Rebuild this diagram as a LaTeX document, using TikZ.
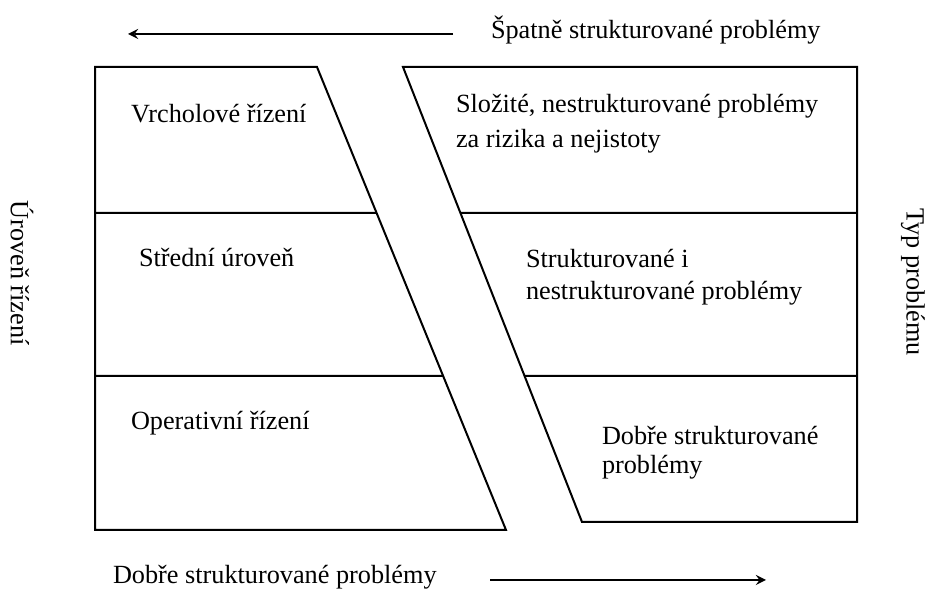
\documentclass[tikz,border=0pt]{standalone}
\usepackage{fontspec}
\setmainfont{Liberation Serif}
\usetikzlibrary{calc}

\begin{document}
\begin{tikzpicture}[x=0.4pt,y=-0.4pt,>=stealth,thick,
    box text/.style={anchor=base west,inner sep=0pt,font=\fontsize{10.5}{12}\selectfont},
    side text/.style={rotate=-90,inner sep=0pt,font=\fontsize{10.5}{12}\selectfont}]
    \useasboundingbox (0,0) rectangle (934,590);

    % levels of management (left block)
    \coordinate (lt) at (95,67);
    \coordinate (ltr) at (317,67);
    \coordinate (lbr) at (506,530);
    \coordinate (lb) at (95,530);
    \draw (lt) -- (ltr) -- (lbr) -- (lb) -- cycle;
    \coordinate (l1) at (95,213);
    \coordinate (l1e) at ($(ltr)!{146/463}!(lbr)$);
    \coordinate (l2) at (95,376);
    \coordinate (l2e) at ($(ltr)!{309/463}!(lbr)$);
    \draw (l1) -- (l1e);
    \draw (l2) -- (l2e);

    % types of problems (right block)
    \coordinate (rtl) at (403,67);
    \coordinate (rt) at (857,67);
    \coordinate (rb) at (857,522);
    \coordinate (rbl) at (582,522);
    \draw (rtl) -- (rt) -- (rb) -- (rbl) -- cycle;
    \coordinate (r1) at ($(rtl)!{146/455}!(rbl)$);
    \coordinate (r1e) at (857,213);
    \coordinate (r2) at ($(rtl)!{309/455}!(rbl)$);
    \coordinate (r2e) at (857,376);
    \draw (r1) -- (r1e);
    \draw (r2) -- (r2e);

    \node[box text] (top) at (130,123) {Vrcholové řízení};
    \node[box text] (mid) at (138,267) {Střední úroveň};
    \node[box text] (low) at (130,430) {Operativní řízení};

    \node[box text] (hard) at (455,113) {Složité, nestrukturované problémy};
    \node[box text] (hard2) at (455,148) {za rizika a nejistoty};
    \node[box text] (semi) at (525,268) {Strukturované i};
    \node[box text] (semi2) at (525,300) {nestrukturované problémy};
    \node[box text] (good) at (601,445) {Dobře strukturované};
    \node[box text] (good2) at (601,474) {problémy};

    % arrows
    \node[box text] (bad) at (490,39) {Špatně strukturované problémy};
    \coordinate (a1) at (453,34);
    \coordinate (a2) at (128,34);
    \draw[->] (a1) -- (a2);
    \node[box text] (well) at (112,584) {Dobře strukturované problémy};
    \coordinate (b1) at (490,580);
    \coordinate (b2) at (766,580);
    \draw[->] (b1) -- (b2);

    \node[side text] (lvl) at (22,273) {Úroveň řízení};
    \node[side text] (typ) at (913,282) {Typ problému};
\end{tikzpicture}
\end{document}
